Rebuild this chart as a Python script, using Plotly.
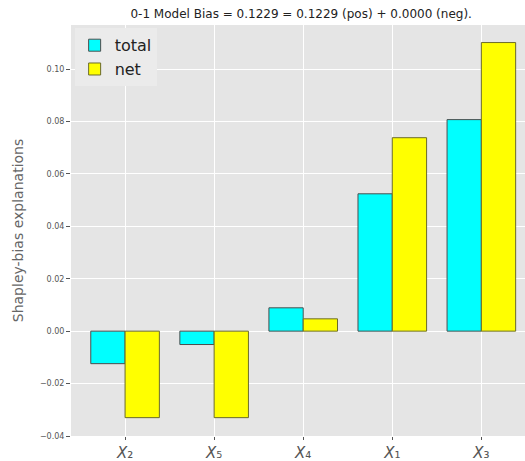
import plotly.graph_objects as go

features = ["X2", "X5", "X4", "X1", "X3"]
tick_labels = ["<i>X</i>₂", "<i>X</i>₅", "<i>X</i>₄", "<i>X</i>₁", "<i>X</i>₃"]
total_vals = [-0.0124, -0.0051, 0.0089, 0.0524, 0.0807]
net_vals = [-0.0330, -0.0330, 0.0047, 0.0738, 0.1101]
y_ticks = [-0.04, -0.02, 0.00, 0.02, 0.04, 0.06, 0.08, 0.10]

idx = list(range(len(features)))
W = 0.385

fig = go.Figure()
fig.add_trace(go.Bar(x=idx, y=total_vals, name="total", width=W, offset=-W,
                     marker=dict(color="#00FFFF", line=dict(color="#4d4d4d", width=1))))
fig.add_trace(go.Bar(x=idx, y=net_vals, name="net", width=W, offset=0,
                     marker=dict(color="#FFFF00", line=dict(color="#6b6b2a", width=1))))

fig.update_layout(
    width=525, height=461,
    margin=dict(l=71, r=0, t=25, b=25),
    barmode="overlay",
    paper_bgcolor="white",
    plot_bgcolor="#E5E5E5",
    font=dict(family="DejaVu Sans", color="#555555"),
    title=dict(text="0-1 Model Bias = 0.1229 = 0.1229 (pos) + 0.0000 (neg).",
               x=0.507, xref="paper", xanchor="center", y=0.97, yref="container",
               yanchor="middle", font=dict(size=12, color="#222222")),
    showlegend=True,
    legend=dict(x=0.008, y=0.992, xanchor="left", yanchor="top",
                bgcolor="#EBEBEB", font=dict(size=16, color="#222222"),
                itemwidth=30, tracegroupgap=0),
    xaxis=dict(range=[-0.607, 4.49], tickvals=idx, ticktext=tick_labels,
               showgrid=True, gridcolor="white", gridwidth=1, zeroline=False,
               ticks="outside", ticklen=3, tickcolor="#555555",
               tickfont=dict(size=15, color="#555555"), automargin=False),
    yaxis=dict(range=[-0.0400, 0.1168], tickvals=y_ticks, tickformat=".2f",
               showgrid=True, gridcolor="white", gridwidth=1, zeroline=False,
               ticks="outside", ticklen=4, tickcolor="#555555",
               tickfont=dict(size=8, color="#555555"),
               title=dict(text="Shapley-bias explanations", font=dict(size=14, color="#666666"),
                          standoff=12),
               automargin=False),
)

fig.write_html("out.html")
